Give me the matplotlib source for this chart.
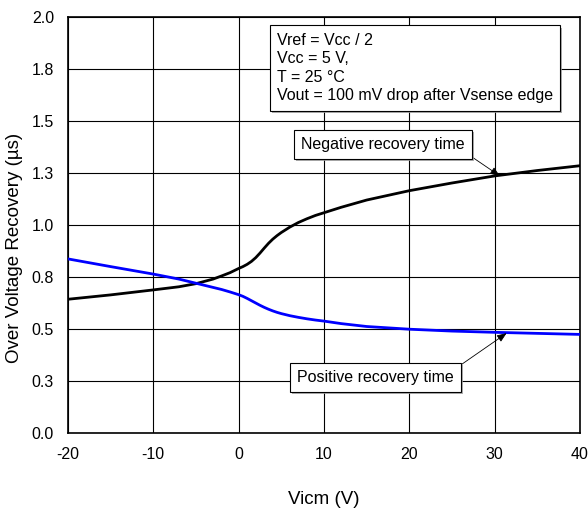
#!/usr/bin/env python3
import matplotlib
matplotlib.use("Agg")
import matplotlib.pyplot as plt
import matplotlib.patheffects as pe

# Vicm (V)
vicm = [-20, -15, -10, -7, -5, -3, -2, -1, 0, 0.5, 1, 1.5, 2, 2.5, 3, 3.5, 4, 4.5, 5, 6, 7, 8, 9, 10,
        12, 15, 20, 25, 30, 35, 40]
# negative recovery time (us), black curve
neg_rec = [0.643, 0.664, 0.688, 0.703, 0.718, 0.740, 0.755, 0.771, 0.791, 0.800, 0.811, 0.825,
           0.843, 0.865, 0.889, 0.912, 0.932, 0.949, 0.964, 0.990, 1.012, 1.030, 1.046, 1.059,
           1.085, 1.120, 1.165, 1.202, 1.236, 1.262, 1.285]
# positive recovery time (us), blue curve
pos_rec = [0.837, 0.800, 0.764, 0.740, 0.720, 0.700, 0.690, 0.678, 0.665, 0.657, 0.647, 0.636,
           0.625, 0.614, 0.604, 0.595, 0.587, 0.580, 0.574, 0.564, 0.556, 0.549, 0.543, 0.538,
           0.526, 0.512, 0.499, 0.490, 0.484, 0.479, 0.474]

y_ticks = [0, 0.25, 0.5, 0.75, 1.0, 1.25, 1.5, 1.75, 2.0]
y_labels = ["0.0", "0.3", "0.5", "0.8", "1.0", "1.3", "1.5", "1.8", "2.0"]
x_ticks = [-20, -10, 0, 10, 20, 30, 40]

plt.rcParams["font.family"] = ["Liberation Sans", "DejaVu Sans"]
plt.rcParams["font.size"] = 11.5
plt.rcParams["axes.unicode_minus"] = False

fig = plt.figure(figsize=(5.88, 5.14), dpi=100)
ax = fig.add_axes([0.1156, 0.1576, 0.8708, 0.8093])

ax.plot(vicm, neg_rec, color="black", lw=2.0, zorder=3)
ax.plot(vicm, pos_rec, color="#0000ff", lw=2.0, zorder=3)

ax.set_xlim(-20, 40)
ax.set_ylim(0, 2.0)
ax.set_xticks(x_ticks)
ax.set_yticks(y_ticks)
ax.set_yticklabels(y_labels)
ax.tick_params(length=0, pad=10)
ax.grid(True, color="black", lw=0.8)
for s in ax.spines.values():
    s.set_linewidth(1.2)

ax.set_xlabel("Vicm (V)", fontsize=13.5)
ax.set_ylabel("Over Voltage Recovery (µs)", fontsize=13.5)
ax.xaxis.set_label_coords(0.5, -0.139)
ax.yaxis.set_label_coords(-0.088, 0.446)

shadow = [pe.SimplePatchShadow(offset=(1.5, -1.5), shadow_rgbFace="0.6", alpha=0.8), pe.Normal()]
box = dict(boxstyle="square,pad=0.45", fc="white", ec="black", lw=0.8)

t = ax.text(4.5, 1.925, "Vref = Vcc / 2\nVcc = 5 V,\nT = 25 °C\nVout = 100 mV drop after Vsense edge",
            ha="left", va="top", linespacing=1.3, bbox=box, zorder=5)
t.get_bbox_patch().set_path_effects(shadow)

arrow = dict(arrowstyle="-|>,head_length=0.5,head_width=0.2", color="black", lw=0.6, shrinkA=0, shrinkB=0)
a1 = ax.annotate("Negative recovery time", xy=(30.6, 1.236), xytext=(16.9, 1.387),
                 ha="center", va="center", bbox=box, zorder=5,
                 arrowprops=dict(arrow, relpos=(1, 0)))
a1.get_bbox_patch().set_path_effects(shadow)
a2 = ax.annotate("Positive recovery time", xy=(31.4, 0.48), xytext=(16.0, 0.267),
                 ha="center", va="center", bbox=box, zorder=5,
                 arrowprops=dict(arrow, relpos=(1, 1)))
a2.get_bbox_patch().set_path_effects(shadow)

fig.savefig("out.png", dpi=100)
